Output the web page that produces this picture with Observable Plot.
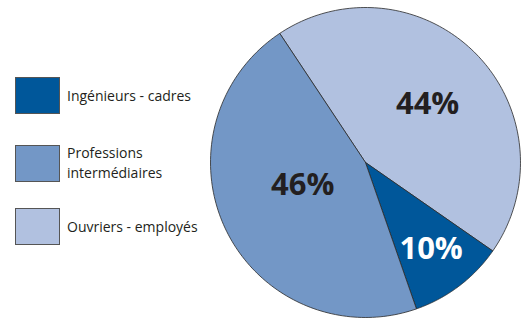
<!DOCTYPE html>
<html><head><meta charset="utf-8">
<script src="https://cdn.jsdelivr.net/npm/d3@7"></script>
<script src="https://cdn.jsdelivr.net/npm/@observablehq/plot@0.6"></script>
<style>
body{margin:0;background:#fff;font-family:"Open Sans",sans-serif;}
#wrap{position:relative;width:523px;height:318px;}
#legend{position:absolute;left:0;top:0;width:210px;height:318px;}
.item{position:absolute;left:15px;display:flex;align-items:center;white-space:nowrap;}
.sw{flex:none;width:45px;height:37px;border:1px solid #555;box-sizing:border-box;}
.lab{margin-left:7px;font-size:14px;line-height:20px;color:#231f20;}
</style></head>
<body><div id="wrap"><div id="legend"></div></div>
<script>
const categories = ["Ouvriers - employés", "Ingénieurs - cadres", "Professions intermédiaires"];
const values = [44, 10, 46];
const labels = ["44%", "10%", "46%"];
const colors = ["#b1c1e0", "#00579a", "#7397c6"];
const legendOrder = ["Ingénieurs - cadres", "Professions intermédiaires", "Ouvriers - employés"];
const legendText = ["Ingénieurs - cadres", "Professions<br>intermédiaires", "Ouvriers - employés"];

const start = -33.6 * Math.PI / 180;
const arcs = d3.pie().sort(null).startAngle(start).endAngle(start + 2 * Math.PI)(values);

const pts = [];
arcs.forEach((a, i) => {
  pts.push({cat: categories[i], x: 0, y: 0});
  const n = 120;
  for (let k = 0; k <= n; k++) {
    const t = a.startAngle + (a.endAngle - a.startAngle) * k / n;
    pts.push({cat: categories[i], x: Math.sin(t), y: Math.cos(t)});
  }
  pts.push({cat: categories[i], x: 0, y: 0});
});

const labelR = [0.55, 0.70, 0.43];
const labelShift = [0.02, 0, 0.12];
const lab = arcs.map((a, i) => {
  const m = (a.startAngle + a.endAngle) / 2 + labelShift[i];
  return {cat: categories[i], text: labels[i], x: labelR[i] * Math.sin(m), y: labelR[i] * Math.cos(m)};
});

const color = {domain: categories, range: colors};

const chart = Plot.plot({
  width: 523, height: 318,
  margin: 0,
  x: {domain: [-1, 1], range: [210, 520], axis: null},
  y: {domain: [-1, 1], range: [317, 7], axis: null},
  color,
  marks: [
    Plot.line(pts, {x: "x", y: "y", z: "cat", fill: "cat", stroke: "#2a2a2a", strokeWidth: 0.8, curve: "linear", strokeLinejoin: "round"}),
    Plot.text(lab, {x: "x", y: "y", text: "text", fontSize: 31, fontWeight: "bold",
      fontFamily: "Open Sans", fill: d => d.cat === "Ingénieurs - cadres" ? "#ffffff" : "#231f20"})
  ],
  style: {fontFamily: "Open Sans"}
});
document.getElementById("wrap").prepend(chart);

const tops = [77, 143, 208];
const leg = document.getElementById("legend");
legendOrder.forEach((c, i) => {
  const d = document.createElement("div");
  d.className = "item";
  d.style.top = tops[i] + "px";
  d.innerHTML = `<div class="sw" style="background:${colors[categories.indexOf(c)]}"></div><div class="lab">${legendText[i]}</div>`;
  leg.appendChild(d);
});
</script></body></html>
